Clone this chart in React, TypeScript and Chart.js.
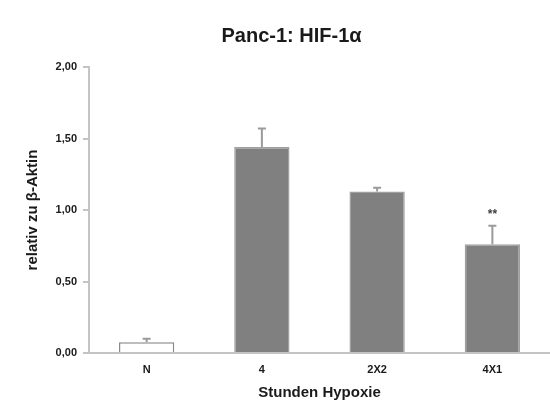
import React, { useEffect, useRef } from "react";
import { Chart, registerables } from "chart.js";
Chart.register(...registerables);

const TITLE = "Panc-1: HIF-1α";
const X_TITLE = "Stunden Hypoxie";
const Y_TITLE = "relativ zu β-Aktin";
const categories = ["N", "4", "2X2", "4X1"];
const values = [0.075, 1.44, 1.13, 0.76];
const errors = [0.025, 0.13, 0.025, 0.13];
const significance = ["", "", "", "**"];
const yTicks = [0, 0.5, 1, 1.5, 2];
const barFill = ["#ffffff", "#808080", "#808080", "#808080"];
const barBorder = ["#8a8a8a", "#a0a0a0", "#a0a0a0", "#a0a0a0"];

const FONT = "'Liberation Sans', Arial, sans-serif";

const errorBarPlugin = {
  id: "errorBars",
  afterDatasetsDraw(chart: any) {
    const ctx = chart.ctx;
    const meta = chart.getDatasetMeta(0);
    const y = chart.scales.y;
    ctx.save();
    ctx.strokeStyle = "#9a9a9a";
    ctx.lineWidth = 2;
    meta.data.forEach((bar: any, i: number) => {
      const base = y.getPixelForValue(values[i]);
      const top = y.getPixelForValue(values[i] + errors[i]);
      ctx.beginPath();
      ctx.moveTo(bar.x, base);
      ctx.lineTo(bar.x, top);
      ctx.moveTo(bar.x - 4, top);
      ctx.lineTo(bar.x + 4, top);
      ctx.stroke();
      if (significance[i]) {
        ctx.fillStyle = "#404040";
        ctx.font = `bold 12px ${FONT}`;
        ctx.textAlign = "center";
        ctx.textBaseline = "middle";
        ctx.fillText(significance[i], bar.x, top - 11);
      }
    });
    ctx.restore();
  },
};

const titlePlugin = {
  id: "customTitle",
  afterDraw(chart: any) {
    const ctx = chart.ctx;
    ctx.save();
    ctx.fillStyle = "#1a1a1a";
    ctx.font = `bold 20px ${FONT}`;
    ctx.textAlign = "center";
    ctx.textBaseline = "alphabetic";
    ctx.fillText(TITLE, chart.width * 0.53, 42);
    ctx.restore();
  },
};

export default function App() {
  const ref = useRef<HTMLCanvasElement>(null);
  useEffect(() => {
    if (!ref.current) return;
    const chart = new Chart(ref.current, {
      type: "bar",
      data: {
        labels: categories,
        datasets: [
          {
            data: values,
            backgroundColor: barFill,
            borderColor: barBorder,
            borderWidth: 1.5,
            barPercentage: 0.48,
            categoryPercentage: 1,
          },
        ],
      },
      options: {
        animation: false,
        responsive: false,
        layout: { padding: { top: 67, left: 0, right: 0, bottom: 0 } },
        plugins: { legend: { display: false }, tooltip: { enabled: false }, title: { display: false } },
        scales: {
          x: {
            offset: true,
            grid: { display: false, drawTicks: false },
            border: { color: "#c4c4c4", width: 2 },
            ticks: { color: "#1a1a1a", font: { family: FONT, size: 11, weight: "bold" }, padding: 10 },
            title: {
              display: true,
              text: X_TITLE,
              color: "#1a1a1a",
              font: { family: FONT, size: 15, weight: "bold" },
              padding: { top: 0, bottom: 5 },
            },
            afterFit(scale: any) {
              scale.height = 54;
            },
          },
          y: {
            min: 0,
            max: 2,
            afterBuildTicks(scale: any) {
              scale.ticks = yTicks.map((v) => ({ value: v }));
            },
            grid: { drawOnChartArea: false, drawTicks: true, tickLength: 6, color: "#c4c4c4", lineWidth: 2 },
            border: { color: "#c4c4c4", width: 2 },
            ticks: {
              color: "#1a1a1a",
              font: { family: FONT, size: 11, weight: "bold" },
              padding: 6,
              callback: (v: any) => Number(v).toFixed(2).replace(".", ","),
            },
            title: {
              display: true,
              text: Y_TITLE,
              color: "#1a1a1a",
              font: { family: FONT, size: 15, weight: "bold" },
              padding: { top: 24, bottom: 0 },
            },
            afterFit(scale: any) {
              scale.width = 89;
            },
          },
        },
      },
      plugins: [errorBarPlugin, titlePlugin],
    });
    return () => chart.destroy();
  }, []);
  return (
    <div style={{ position: "absolute", left: 0, top: 0, width: 550, height: 407, background: "#fff" }}>
      <canvas ref={ref} width={550} height={407} style={{ width: 550, height: 407 }} />
    </div>
  );
}
